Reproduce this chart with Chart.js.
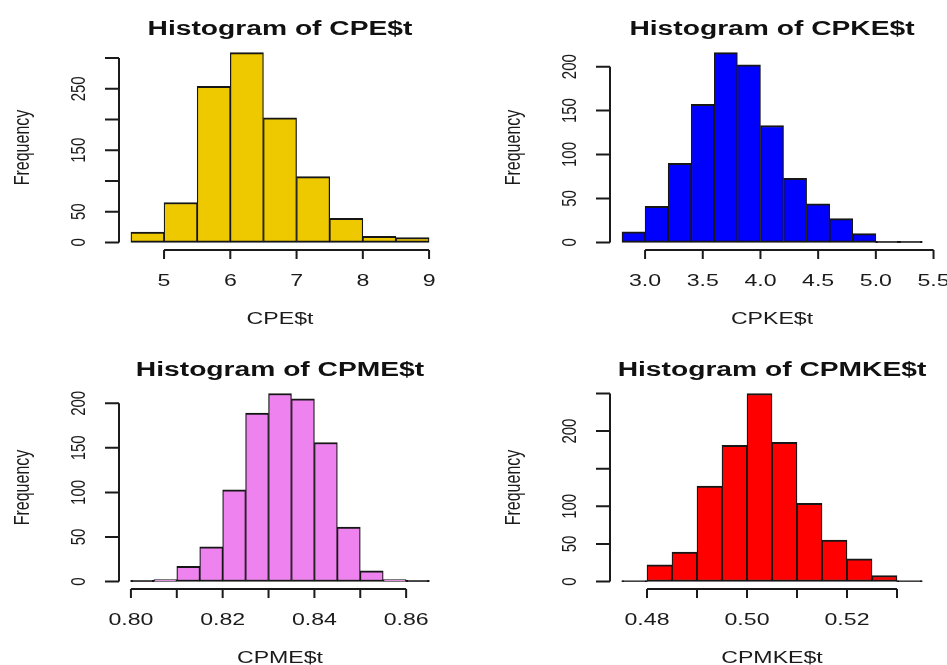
<!DOCTYPE html>
<html>
<head>
<meta charset="utf-8">
<title>Histograms</title>
<script src="https://cdn.jsdelivr.net/npm/chart.js@4.4.1/dist/chart.umd.min.js"></script>
<style>
  body { margin: 0; background: #fff; }
  .panel { position: absolute; }
</style>
</head>
<body>
<canvas id="cpe" class="panel" width="473" height="332" style="left:0;top:0"></canvas>
<canvas id="cpke" class="panel" width="474" height="332" style="left:473px;top:0"></canvas>
<canvas id="cpme" class="panel" width="473" height="333" style="left:0;top:332px"></canvas>
<canvas id="cpmke" class="panel" width="474" height="333" style="left:473px;top:332px"></canvas>
<script>
// bin edges and counts per variable
const cpeBreaks = [4.5, 5, 5.5, 6, 6.5, 7, 7.5, 8, 8.5, 9];
const cpeCounts = [17, 65, 254, 309, 203, 107, 39, 10, 8];
const cpeXTicks = [5, 6, 7, 8, 9];
const cpeXLabels = ['5', '6', '7', '8', '9'];
const cpeYTicks = [0, 50, 100, 150, 200, 250, 300];
const cpeYLabels = ['0', '50', '', '150', '', '250', ''];

const cpkeBreaks = [2.8, 3.0, 3.2, 3.4, 3.6, 3.8, 4.0, 4.2, 4.4, 4.6, 4.8, 5.0, 5.2, 5.4];
const cpkeCounts = [12, 41, 90, 157, 216, 202, 133, 73, 44, 27, 10, 1, 1];
const cpkeXTicks = [3.0, 3.5, 4.0, 4.5, 5.0, 5.5];
const cpkeXLabels = ['3.0', '3.5', '4.0', '4.5', '5.0', '5.5'];
const cpkeYTicks = [0, 50, 100, 150, 200];
const cpkeYLabels = ['0', '50', '100', '150', '200'];

const cpmeBreaks = [0.800, 0.805, 0.810, 0.815, 0.820, 0.825, 0.830, 0.835, 0.840, 0.845, 0.850, 0.855, 0.860, 0.865];
const cpmeCounts = [1, 2, 17, 39, 103, 189, 211, 205, 156, 61, 12, 2, 1];
const cpmeXTicks = [0.80, 0.81, 0.82, 0.83, 0.84, 0.85, 0.86];
const cpmeXLabels = ['0.80', '', '0.82', '', '0.84', '', '0.86'];
const cpmeYTicks = [0, 50, 100, 150, 200];
const cpmeYLabels = ['0', '50', '100', '150', '200'];

const cpmkeBreaks = [0.475, 0.480, 0.485, 0.490, 0.495, 0.500, 0.505, 0.510, 0.515, 0.520, 0.525, 0.530, 0.535];
const cpmkeCounts = [1, 22, 39, 127, 181, 250, 185, 104, 55, 30, 8, 1];
const cpmkeXTicks = [0.48, 0.49, 0.50, 0.51, 0.52, 0.53];
const cpmkeXLabels = ['0.48', '', '0.50', '', '0.52', ''];
const cpmkeYTicks = [0, 50, 100, 150, 200, 250];
const cpmkeYLabels = ['0', '50', '100', '', '200', ''];

const FONT = '"Liberation Sans", Arial, sans-serif';
const INK = '#1b1b1b';
const EDGE = '#161616';

// text is drawn a bit wider than the font (sx = horizontal stretch)
function wideText(ctx, text, x, y, font, sx) {
    ctx.save();
    ctx.translate(x, y);
    ctx.scale(sx, 1);
    ctx.font = font;
    ctx.textAlign = 'center';
    ctx.textBaseline = 'alphabetic';
    ctx.fillText(text, 0, 0);
    ctx.restore();
}

// text reading bottom to top, baseline at x
function upText(ctx, text, x, y, font, along, across) {
    ctx.save();
    ctx.translate(x, y);
    ctx.rotate(-Math.PI / 2);
    ctx.scale(along, across);
    ctx.font = font;
    ctx.textAlign = 'center';
    ctx.textBaseline = 'alphabetic';
    ctx.fillText(text, 0, 0);
    ctx.restore();
}

function makeHist(id, cfg) {
    const lo = cfg.breaks[0], hi = cfg.breaks[cfg.breaks.length - 1];
    const xpad = (hi - lo) * 0.04;
    const top = Math.max.apply(null, cfg.counts);

    // base graphics style axes: line only between first and last tick
    const baseAxes = {
        id: 'baseAxes',
        afterDraw(chart) {
            const ctx = chart.ctx, a = chart.chartArea;
            const xs = chart.scales.x, ys = chart.scales.y;
            ctx.save();
            ctx.strokeStyle = INK;
            ctx.fillStyle = INK;
            ctx.lineWidth = 2;
            ctx.beginPath();
            ctx.moveTo(xs.getPixelForValue(cfg.xTicks[0]), a.bottom);
            ctx.lineTo(xs.getPixelForValue(cfg.xTicks[cfg.xTicks.length - 1]), a.bottom);
            cfg.xTicks.forEach(function (v) {
                const p = xs.getPixelForValue(v);
                ctx.moveTo(p, a.bottom);
                ctx.lineTo(p, a.bottom + 9);
            });
            ctx.moveTo(a.left, ys.getPixelForValue(cfg.yTicks[0]));
            ctx.lineTo(a.left, ys.getPixelForValue(cfg.yTicks[cfg.yTicks.length - 1]));
            cfg.yTicks.forEach(function (v) {
                const p = ys.getPixelForValue(v);
                ctx.moveTo(a.left, p);
                ctx.lineTo(a.left - 14, p);
            });
            ctx.stroke();

            cfg.xTicks.forEach(function (v, i) {
                if (cfg.xLabels[i]) wideText(ctx, cfg.xLabels[i], xs.getPixelForValue(v), a.bottom + 36, '17px ' + FONT, 1.36);
            });
            cfg.yTicks.forEach(function (v, i) {
                if (cfg.yLabels[i]) upText(ctx, cfg.yLabels[i], a.left - 34, ys.getPixelForValue(v), '15px ' + FONT, 1, 1.4);
            });

            const cx = (a.left + a.right) / 2;
            ctx.fillStyle = '#111';
            wideText(ctx, 'Histogram of ' + cfg.name, cx, a.top - 10, 'bold 20px ' + FONT, 1.41);
            ctx.fillStyle = INK;
            wideText(ctx, cfg.name, cx, a.bottom + 74, '17px ' + FONT, 1.36);
            upText(ctx, 'Frequency', a.left - 90, (a.top + a.bottom) / 2, '16px ' + FONT, 1, 1.39);
            ctx.restore();
        }
    };

    // a single observation only shows as the outline, so fill it dark
    function tiny(c) {
        return c.raw && c.raw.y <= 1;
    }

    return new Chart(document.getElementById(id), {
        type: 'bar',
        data: {
            datasets: [{
                data: cfg.counts.map(function (c, i) {
                    return { x: (cfg.breaks[i] + cfg.breaks[i + 1]) / 2, y: c };
                }),
                backgroundColor: function (c) { return tiny(c) ? EDGE : cfg.color; },
                inflateAmount: function (c) { return tiny(c) ? 0.6 : 'auto'; },
                borderColor: EDGE,
                borderWidth: { top: 2, bottom: 2, left: 1.25, right: 1.25 },
                borderSkipped: false,
                barPercentage: 1,
                categoryPercentage: 1
            }]
        },
        options: {
            responsive: false,
            animation: false,
            devicePixelRatio: 1,
            layout: { padding: cfg.pad },
            plugins: { legend: { display: false }, tooltip: { enabled: false } },
            scales: {
                x: { type: 'linear', display: false, offset: false, min: lo - xpad, max: hi + xpad },
                y: { display: false, min: -0.04 * top, max: 1.04 * top }
            }
        },
        plugins: [baseAxes]
    });
}

makeHist('cpe', {
    name: 'CPE$t', color: '#EEC900',
    breaks: cpeBreaks, counts: cpeCounts,
    xTicks: cpeXTicks, xLabels: cpeXLabels, yTicks: cpeYTicks, yLabels: cpeYLabels,
    pad: { left: 119, top: 45, right: 32, bottom: 82 }
});
makeHist('cpke', {
    name: 'CPKE$t', color: '#0000FF',
    breaks: cpkeBreaks, counts: cpkeCounts,
    xTicks: cpkeXTicks, xLabels: cpkeXLabels, yTicks: cpkeYTicks, yLabels: cpkeYLabels,
    pad: { left: 137, top: 45, right: 13, bottom: 82 }
});
makeHist('cpme', {
    name: 'CPME$t', color: '#EE82EE',
    breaks: cpmeBreaks, counts: cpmeCounts,
    xTicks: cpmeXTicks, xLabels: cpmeXLabels, yTicks: cpmeYTicks, yLabels: cpmeYLabels,
    pad: { left: 119, top: 54, right: 32, bottom: 76 }
});
makeHist('cpmke', {
    name: 'CPMKE$t', color: '#FF0000',
    breaks: cpmkeBreaks, counts: cpmkeCounts,
    xTicks: cpmkeXTicks, xLabels: cpmkeXLabels, yTicks: cpmkeYTicks, yLabels: cpmkeYLabels,
    pad: { left: 137, top: 54, right: 13, bottom: 76 }
});
</script>
</body>
</html>
